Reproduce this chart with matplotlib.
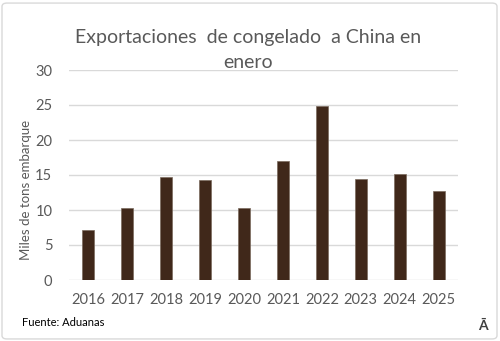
import matplotlib.pyplot as plt
from matplotlib.patches import FancyBboxPatch

years = ["2016", "2017", "2018", "2019", "2020", "2021", "2022", "2023", "2024", "2025"]
exports = [7.1, 10.3, 14.7, 14.3, 10.3, 17.0, 24.9, 14.5, 15.2, 12.7]

plt.rcParams["font.family"] = ["Lato", "DejaVu Sans"]

fig = plt.figure(figsize=(5.0, 3.41), dpi=100)
ax = fig.add_axes([69 / 500, 1 - 280 / 341, 389 / 500, 210 / 341])

# rounded frame round the whole chart
fig.patches.append(FancyBboxPatch((0.004, 0.006), 0.99, 0.985, boxstyle="round,pad=0,rounding_size=0.01",
                                  transform=fig.transFigure, fill=False, ec="#d9d9d9", lw=1.0))

x = range(len(years))
ax.bar(x, exports, width=0.31, color="#40281a", edgecolor="#7a6a5e", linewidth=0.5, zorder=3)

ax.set_xlim(-0.5, len(years) - 0.5)
ax.set_ylim(0, 30)
ax.set_yticks(range(0, 31, 5))
ax.set_xticks(list(x))
ax.set_xticklabels(years)
ax.grid(True, axis="y", color="#d9d9d9", lw=1.0, zorder=0)
for s in ax.spines.values():
    s.set_visible(False)
ax.tick_params(length=0, labelsize=10.5, labelcolor="#595959")
ax.tick_params(axis="x", pad=9)
ax.tick_params(axis="y", pad=12)

ax.set_ylabel("Miles de tons embarque", fontsize=9.5, color="#595959")
ax.yaxis.set_label_coords(-0.095, 0.43)

# two-line title
fig.text(0.496, 1 - 37 / 341, "Exportaciones  de congelado  a China en", ha="center", va="center",
         fontsize=14, color="#595959")
fig.text(0.496, 1 - 62 / 341, "enero", ha="center", va="center", fontsize=14, color="#595959")
fig.text(22 / 500, 1 - 322 / 341, "Fuente: Aduanas", fontsize=8, color="black", va="center")
fig.text(483 / 500, 1 - 326 / 341, "Ā", fontsize=10, fontweight="bold", color="#404040",
         ha="center", va="center")

fig.savefig("out.png", dpi=100)
plt.close(fig)
